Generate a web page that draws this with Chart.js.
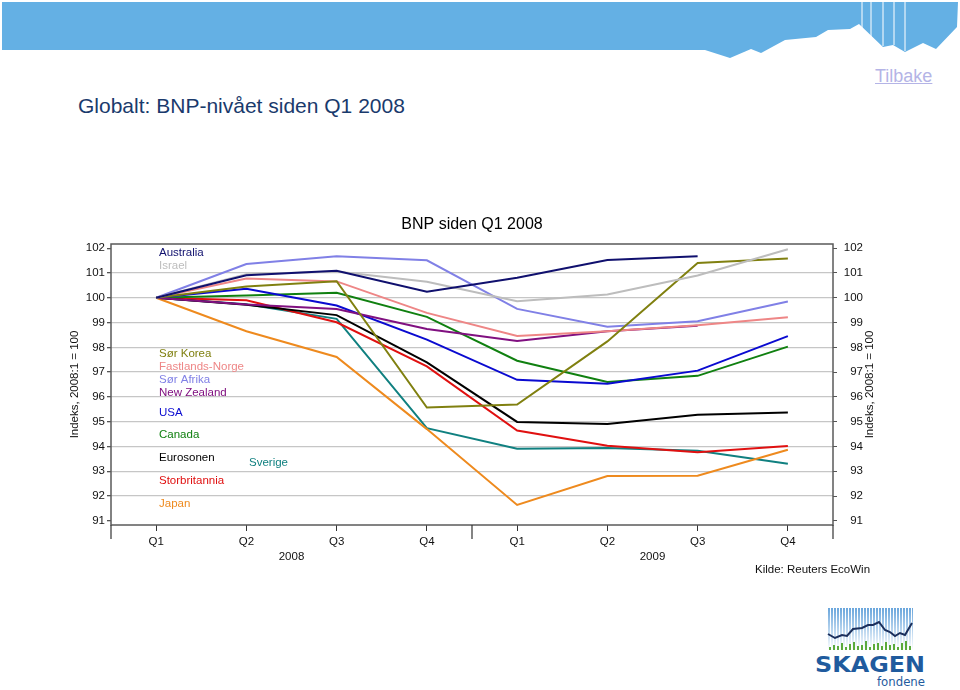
<!DOCTYPE html>
<html>
<head>
<meta charset="utf-8">
<script src="https://cdn.jsdelivr.net/npm/chart.js@4.4.0/dist/chart.umd.min.js"></script>
<style>
body { margin: 0; background: #fff; font-family: "Liberation Sans", Arial, sans-serif; }
#page { position: relative; width: 960px; height: 690px; overflow: hidden; }
#header { position: absolute; left: 0; top: 0; }
#back { position: absolute; left: 875px; top: 66px; font-size: 18px; color: #b4b4e6; text-decoration: underline; }
#heading { position: absolute; left: 78px; top: 94px; font-size: 21px; color: #1a3a6c; }
#chart { position: absolute; left: 0; top: 200px; }
#source { position: absolute; left: 755px; top: 563px; font-size: 11.5px; color: #111; }
#logo { position: absolute; left: 810px; top: 600px; }
</style>
</head>
<body>
<div id="page">
  <svg id="header" width="960" height="70">
    <polygon fill="#64b0e4" points="2,2 958,2 957,27 936,49 923,43 905,52 893,45 883,47 859,24 850,29 828,30 816,37 785,40 761,53 751,49 730,58 705,50 2,50"/>
    <g stroke="#fff" stroke-width="1">
      <line x1="862" y1="2" x2="862" y2="28"/>
      <line x1="871" y1="2" x2="871" y2="38"/>
      <line x1="883" y1="2" x2="883" y2="46"/>
      <line x1="894" y1="2" x2="894" y2="45"/>
      <line x1="905" y1="2" x2="905" y2="51"/>
    </g>
  </svg>
  <div id="back">Tilbake</div>
  <div id="heading">Globalt: BNP-nivået siden Q1 2008</div>
  <canvas id="chart" width="960" height="380"></canvas>
  <div id="source">Kilde: Reuters EcoWin</div>
  <svg id="logo" width="130" height="90">
    <defs>
      <linearGradient id="sky" x1="0" y1="0" x2="0" y2="1">
        <stop offset="0" stop-color="#6aa6dc"/>
        <stop offset="1" stop-color="#ffffff"/>
      </linearGradient>
      <pattern id="stripes" width="3" height="10" patternUnits="userSpaceOnUse">
        <rect x="2" y="0" width="1" height="10" fill="#fff"/>
      </pattern>
    </defs>
    <rect x="18" y="8" width="85" height="42" fill="url(#sky)"/>
    <rect x="18" y="8" width="85" height="42" fill="url(#stripes)"/>
    <g id="grass" fill="#5aaa3c"></g>
    <polyline fill="none" stroke="#1b2f5c" stroke-width="2" points="18,34 25,38 32,35 37,36 43,29 52,28 58,25 63,25 69,22 75,30 80,32 85,36 90,33 95,35 102,23"/>
    <text x="5" y="72" font-family="DejaVu Sans" font-weight="bold" font-size="21" fill="#1f5b9e" textLength="110" lengthAdjust="spacingAndGlyphs">SKAGEN</text>
    <text x="67" y="86" font-family="DejaVu Sans" font-size="12" fill="#1f5b9e" textLength="48" lengthAdjust="spacingAndGlyphs">fondene</text>
  </svg>
</div>
<script>
const quarters = ['Q1', 'Q2', 'Q3', 'Q4', 'Q1', 'Q2', 'Q3', 'Q4'];
const years = ['2008', '2009'];
const yTicks = [91, 92, 93, 94, 95, 96, 97, 98, 99, 100, 101, 102];

const australia      = [100, 100.91, 101.09, 100.24, 100.81, 101.52, 101.68, null];
const israel         = [100, 100.95, 101.06, 100.65, 99.86, 100.13, 100.90, 101.96];
const sorKorea       = [100, 100.45, 100.67, 95.57, 95.69, 98.24, 101.40, 101.58];
const fastlandsNorge = [100, 100.78, 100.66, 99.39, 98.46, 98.65, 98.89, 99.21];
const sorAfrika      = [100, 101.36, 101.68, 101.51, 99.55, 98.83, 99.05, 99.85];
const newZealand     = [100, 99.73, 99.55, 98.74, 98.26, 98.65, 98.87, null];
const usa            = [100, 100.36, 99.69, 98.31, 96.69, 96.53, 97.06, 98.45];
const canada         = [100, 100.09, 100.20, 99.23, 97.46, 96.60, 96.85, 98.03];
const eurosonen      = [100, 99.72, 99.30, 97.39, 94.99, 94.91, 95.28, 95.37];
const storbritannia  = [100, 99.90, 99.01, 97.23, 94.64, 94.03, 93.77, 94.02];
const sverige        = [100, 99.74, 99.15, 94.74, 93.91, 93.94, 93.83, 93.30];
const japan          = [100, 98.65, 97.61, 94.70, 91.64, 92.81, 92.82, 93.87];

const names = ['Australia', 'Israel', 'Sør Korea', 'Fastlands-Norge', 'Sør Afrika', 'New Zealand',
  'USA', 'Canada', 'Eurosonen', 'Storbritannia', 'Japan', 'Sverige'];
const values = [australia, israel, sorKorea, fastlandsNorge, sorAfrika, newZealand,
  usa, canada, eurosonen, storbritannia, japan, sverige];
const colors = ['#10106e', '#bdbdbd', '#808010', '#ee8686', '#8080e6', '#801080',
  '#0a0ad0', '#108010', '#000000', '#e01010', '#ee8a1e', '#108080'];

// where the coloured name labels sit, px from the plot's top-left corner
const labelSpots = [[48, 9], [48, 22], [48, 110], [48, 123], [48, 136], [48, 149],
  [48, 169], [48, 191], [48, 214], [48, 237], [48, 260], [138, 219]];

// grass bars under the logo
const grass = document.getElementById('grass');
const gh = [3, 5, 4, 7, 3, 6, 8, 4, 5, 9, 3, 6, 7, 4, 8, 5, 6, 3, 7, 9, 4];
gh.forEach((h, i) => {
  const r = document.createElementNS('http://www.w3.org/2000/svg', 'rect');
  r.setAttribute('x', 19 + i * 4); r.setAttribute('y', 50 - h);
  r.setAttribute('width', 2); r.setAttribute('height', h);
  grass.appendChild(r);
});

const FONT = '"Liberation Sans", Arial, sans-serif';

const decor = {
  id: 'decor',
  afterDraw(chart) {
    const { ctx, chartArea: a, scales: { x } } = chart;
    ctx.save();
    ctx.strokeStyle = '#5a5a5a';
    ctx.lineWidth = 1.5;
    ctx.strokeRect(a.left, a.top, a.right - a.left, a.bottom - a.top);

    // longer ticks at the year breaks
    const mid = (x.getPixelForValue(3) + x.getPixelForValue(4)) / 2;
    ctx.strokeStyle = '#333';
    ctx.lineWidth = 1.2;
    [a.left, mid, a.right].forEach(px => {
      ctx.beginPath(); ctx.moveTo(px, a.bottom); ctx.lineTo(px, a.bottom + 14); ctx.stroke();
    });

    ctx.fillStyle = '#111';
    ctx.font = '11.5px ' + FONT;
    ctx.textAlign = 'center';
    ctx.textBaseline = 'middle';
    ctx.fillText(years[0], (x.getPixelForValue(1) + x.getPixelForValue(2)) / 2, a.bottom + 32);
    ctx.fillText(years[1], (x.getPixelForValue(5) + x.getPixelForValue(6)) / 2, a.bottom + 32);

    // chart title
    ctx.font = '16px ' + FONT;
    ctx.fillStyle = '#000';
    ctx.fillText('BNP siden Q1 2008', (a.left + a.right) / 2, a.top - 19);

    // axis titles, both reading upwards
    ctx.font = '11.5px ' + FONT;
    ctx.fillStyle = '#111';
    const cy = (a.top + a.bottom) / 2;
    [75, 870].forEach(tx => {
      ctx.save();
      ctx.translate(tx, cy);
      ctx.rotate(-Math.PI / 2);
      ctx.fillText('Indeks, 2008:1 = 100', 0, 0);
      ctx.restore();
    });

    // coloured series names
    ctx.textAlign = 'left';
    names.forEach((n, i) => {
      ctx.fillStyle = colors[i];
      ctx.fillText(n, a.left + labelSpots[i][0], a.top + labelSpots[i][1]);
    });
    ctx.restore();
  }
};

const yScale = (pos, extra) => Object.assign({
  position: pos,
  min: 90.83,
  max: 102.17,
  afterBuildTicks: s => { s.ticks = yTicks.map(v => ({ value: v })); },
  border: { display: false },
  ticks: { color: '#111', font: { size: 11.5, family: FONT } }
}, extra);

new Chart(document.getElementById('chart'), {
  type: 'line',
  data: {
    labels: quarters,
    datasets: names.map((n, i) => ({
      label: n,
      data: values[i],
      borderColor: colors[i],
      backgroundColor: colors[i],
      borderWidth: 2,
      pointRadius: 0,
      tension: 0,
      fill: false
    }))
  },
  options: {
    responsive: false,
    animation: false,
    layout: { padding: { top: 44, left: 0, right: 97, bottom: 0 } },
    plugins: { legend: { display: false }, tooltip: { enabled: false } },
    scales: {
      x: {
        offset: true,
        border: { display: false },
        grid: { drawOnChartArea: false, tickLength: 6, tickColor: '#333', tickWidth: 1 },
        ticks: { color: '#111', padding: 4, maxRotation: 0, font: { size: 11.5, family: FONT } },
        afterFit: s => { s.height = 55; }
      },
      y: yScale('left', {
        grid: {
          color: c => (c.tick && (c.tick.value === 91 || c.tick.value === 102)) ? 'rgba(0,0,0,0)' : '#c6c6c6',
          lineWidth: 1.3,
          tickLength: 4,
          tickColor: '#555'
        },
        ticks: { color: '#111', padding: 2, font: { size: 11.5, family: FONT } },
        afterFit: s => { s.width = 111; }
      }),
      y2: yScale('right', {
        grid: { drawOnChartArea: false, tickLength: 4, tickColor: '#555' },
        ticks: { color: '#111', padding: 7, crossAlign: 'far', font: { size: 11.5, family: FONT } },
        afterFit: s => { s.width = 30; }
      })
    }
  },
  plugins: [decor]
});
</script>
</body>
</html>
